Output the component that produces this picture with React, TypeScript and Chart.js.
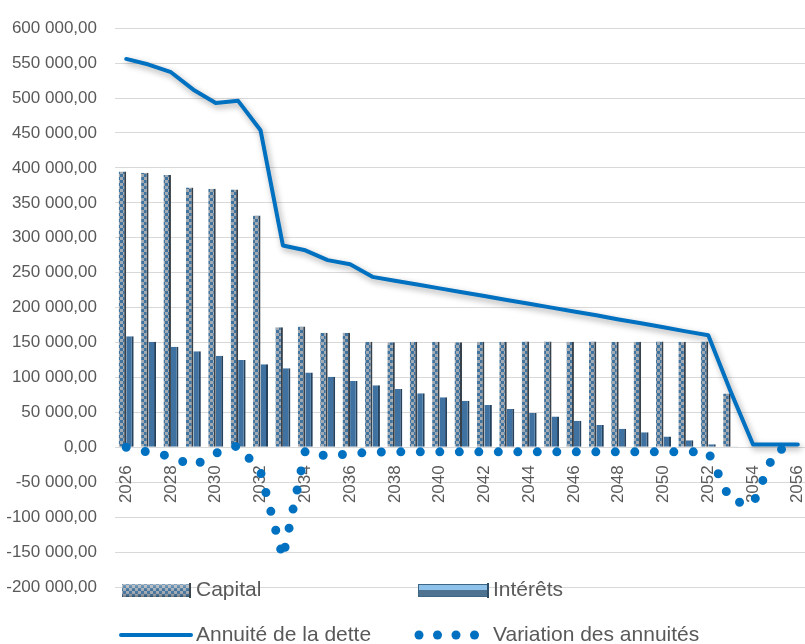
import React, { useEffect, useRef } from 'react';
import { Chart, registerables } from 'chart.js';

Chart.register(...registerables);

const years = [
  '2026', '2027', '2028', '2029', '2030', '2031', '2032', '2033', '2034', '2035',
  '2036', '2037', '2038', '2039', '2040', '2041', '2042', '2043', '2044', '2045',
  '2046', '2047', '2048', '2049', '2050', '2051', '2052', '2053', '2054', '2055', '2056',
];

const capital = [
  395000, 393000, 390000, 372000, 370000, 369000, 332000, 172000, 173000, 164000,
  164000, 151000, 150500, 151000, 151000, 150500, 151000, 151000, 151500, 151500,
  151000, 151500, 151000, 151000, 151500, 151000, 151500, 77000, 1000, 0, 0,
];

const interets = [
  159000, 151000, 144000, 137500, 131000, 125000, 119000, 113000, 107000, 101000,
  95000, 89000, 83500, 77500, 71500, 66500, 60500, 55000, 49000, 44000,
  38000, 32000, 26500, 21500, 15500, 10000, 4500, 500, 0, 0, 0,
];

const annuite = [
  556000, 548000, 537000, 512000, 493000, 496000, 454000, 289000, 282000, 268000,
  262000, 244000, 238500, 233000, 227500, 222000, 216500, 211000, 205500, 200000,
  194500, 189000, 183000, 177500, 172000, 166000, 160500, 80000, 4000, 4000, 4000,
];

const variation = [
  0, -7000, -13000, -27000, -8500, 2500, -35000, -158000, -5000, -13000,
  -9000, -7000, -6500, -6500, -6500, -6500, -6500, -6500, -6500, -6500,
  -6500, -6500, -6500, -6500, -6500, -6500, -6500, -77000, -81000, -4000, 0,
];

const seriesLabels = ['Capital', 'Intérêts', 'Annuité de la dette', 'Variation des annuités'];

const yMin = -200000;
const yMax = 600000;
const yStep = 50000;

function fmt(v: number): string {
  const neg = v < 0;
  const s = Math.abs(Math.round(v)).toString().replace(/\B(?=(\d{3})+(?!\d))/g, ' ');
  return (neg ? '-' : '') + s + ',00';
}

const FONT = '"Liberation Sans", Arial, sans-serif';
const TEXT = '#595959';

export default function App() {
  const ref = useRef<HTMLCanvasElement>(null);

  useEffect(() => {
    const canvas = ref.current;
    if (!canvas) return;
    const ctx = canvas.getContext('2d')!;

    const pc = document.createElement('canvas');
    pc.width = 6;
    pc.height = 6;
    const p = pc.getContext('2d')!;
    p.fillStyle = '#a3aab1';
    p.fillRect(0, 0, 6, 6);
    p.fillStyle = '#3f74a0';
    p.fillRect(0, 0, 3, 3);
    p.fillRect(3, 3, 3, 3);
    const pattern = ctx.createPattern(pc, 'repeat')!;

    const shadowPlugin = {
      id: 'lineShadow',
      beforeDatasetDraw(chart: any, args: any) {
        if (args.index === 2) {
          const c = chart.ctx;
          c.save();
          c.shadowColor = 'rgba(0,0,0,0.35)';
          c.shadowBlur = 6;
          c.shadowOffsetX = 2;
          c.shadowOffsetY = 3;
        }
      },
      afterDatasetDraw(chart: any, args: any) {
        if (args.index === 2) chart.ctx.restore();
      },
    };

    const legendPlugin = {
      id: 'customLegend',
      afterDraw(chart: any) {
        const c: CanvasRenderingContext2D = chart.ctx;
        const ds = chart.data.datasets;
        const r1 = 590;
        const r2 = 635;
        c.save();
        // Capital symbol
        c.fillStyle = pattern;
        c.fillRect(122, 584, 69, 13);
        const g1 = c.createLinearGradient(0, 584, 0, 597);
        g1.addColorStop(0, 'rgba(255,255,255,0.35)');
        g1.addColorStop(0.5, 'rgba(255,255,255,0)');
        g1.addColorStop(1, 'rgba(0,0,0,0.3)');
        c.fillStyle = g1;
        c.fillRect(122, 584, 69, 13);
        c.fillStyle = '#3a4650';
        c.fillRect(189, 583, 2, 15);
        // Intérêts symbol
        c.fillStyle = '#8ec2ea';
        c.fillRect(418, 584, 71, 7);
        c.fillStyle = '#4d7391';
        c.fillRect(418, 590, 71, 7);
        c.strokeStyle = '#3d6584';
        c.lineWidth = 1;
        c.strokeRect(418.5, 584.5, 70, 12);
        c.fillStyle = '#2f4d66';
        c.fillRect(487, 583, 2, 15);
        // Annuité line symbol
        c.strokeStyle = '#0070C0';
        c.lineWidth = 4;
        c.lineCap = 'round';
        c.beginPath();
        c.moveTo(121, r2);
        c.lineTo(191, r2);
        c.stroke();
        // Variation dots
        c.fillStyle = '#0070C0';
        [419, 437.5, 456, 474.5].forEach((x) => {
          c.beginPath();
          c.arc(x, r2, 4.5, 0, Math.PI * 2);
          c.fill();
        });
        // Texts
        c.font = '21px ' + FONT;
        c.fillStyle = TEXT;
        c.textBaseline = 'middle';
        c.textAlign = 'left';
        c.fillText(ds[0].label, 196, r1);
        c.fillText(ds[1].label, 493, r1);
        c.fillText(ds[2].label, 196, r2);
        c.fillText(ds[3].label, 493, r2);
        c.restore();
      },
    };

    const chart = new Chart(canvas, {
      type: 'bar',
      data: {
        labels: years,
        datasets: [
          {
            type: 'bar',
            label: seriesLabels[0],
            data: capital,
            backgroundColor: pattern as any,
            borderColor: '#36414b',
            borderWidth: { left: 0, right: 2, top: 0, bottom: 0 },
            borderSkipped: false,
            barPercentage: 1,
            categoryPercentage: 0.67,
            order: 2,
          },
          {
            type: 'bar',
            label: seriesLabels[1],
            data: interets,
            backgroundColor: '#3f72a0',
            borderColor: '#24425e',
            borderWidth: { left: 0, right: 2, top: 0, bottom: 0 },
            borderSkipped: false,
            barPercentage: 1,
            categoryPercentage: 0.67,
            order: 3,
          },
          {
            type: 'line',
            label: seriesLabels[2],
            data: annuite,
            borderColor: '#0070C0',
            backgroundColor: '#0070C0',
            borderWidth: 4,
            pointRadius: 0,
            tension: 0,
            borderJoinStyle: 'round',
            borderCapStyle: 'round',
            fill: false,
            order: 1,
          },
          {
            type: 'line',
            label: seriesLabels[3],
            data: variation,
            borderColor: '#0070C0',
            backgroundColor: '#0070C0',
            borderWidth: 9,
            borderDash: [0, 19.5],
            borderCapStyle: 'round',
            pointRadius: 0,
            tension: 0,
            fill: false,
            order: 0,
          },
        ] as any,
      },
      options: {
        animation: false,
        responsive: false,
        devicePixelRatio: 1,
        events: [],
        layout: { padding: { top: 24, right: 6, bottom: 57, left: 0 } },
        plugins: {
          legend: { display: false },
          tooltip: { enabled: false },
        },
        scales: {
          x: {
            type: 'category',
            position: { y: 0 } as any,
            offset: true,
            grid: { display: false },
            border: { display: false },
            ticks: {
              autoSkip: false,
              maxRotation: 90,
              minRotation: 90,
              padding: 10,
              color: TEXT,
              font: { size: 17, family: FONT },
              callback: (_v: any, i: number) => (i % 2 === 0 ? years[i] : ''),
            },
            afterFit: (s: any) => {
              s.height = 0;
              s.paddingLeft = 0;
              s.paddingRight = 0;
            },
          },
          y: {
            min: yMin,
            max: yMax,
            grid: { color: '#d9d9d9', lineWidth: 1, drawTicks: false },
            border: { display: false },
            ticks: {
              stepSize: yStep,
              padding: 18,
              color: TEXT,
              font: { size: 17, family: FONT },
              callback: (v: any) => fmt(Number(v)),
            },
            afterFit: (s: any) => {
              s.width = 115;
            },
          },
        },
      } as any,
      plugins: [shadowPlugin, legendPlugin],
    });

    return () => chart.destroy();
  }, []);

  return (
    <div
      style={{
        position: 'fixed',
        left: 0,
        top: 0,
        width: 805,
        height: 644,
        overflow: 'hidden',
        background: '#ffffff',
      }}
    >
      <canvas ref={ref} width={815} height={644} style={{ display: 'block', width: 815, height: 644 }} />
    </div>
  );
}
